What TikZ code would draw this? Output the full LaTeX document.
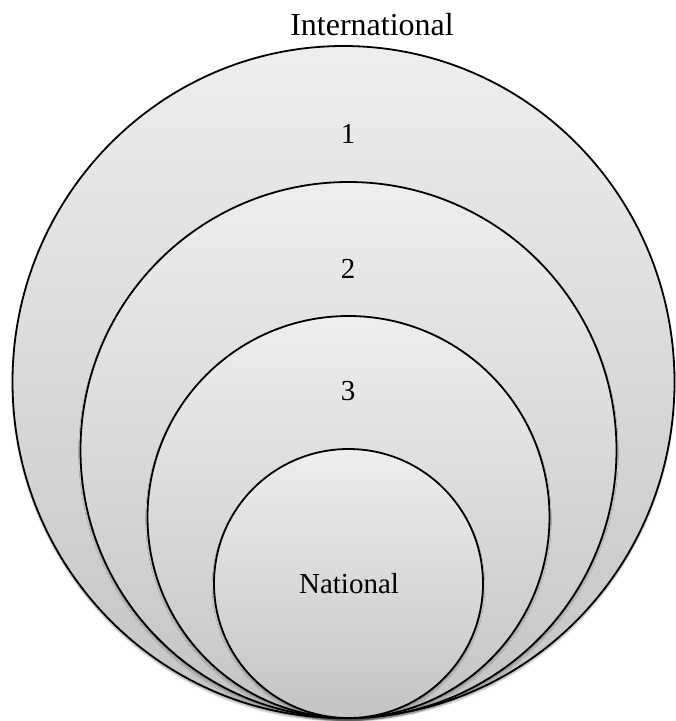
\documentclass[tikz,border=0pt]{standalone}
\usepackage{fontspec}
\setmainfont{Liberation Serif}
\usetikzlibrary{shapes.geometric,shadows.blur}
\definecolor{ringtop}{RGB}{238,238,238}
\definecolor{ringbottom}{RGB}{196,196,196}
\begin{document}
\begin{tikzpicture}[x=1pt,y=-1pt,
  ring/.style={ellipse, draw=black, line width=1.8pt, inner sep=0pt,
    top color=ringtop, bottom color=ringbottom,
    blur shadow={shadow xshift=0pt, shadow yshift=-2.5pt, shadow blur steps=6, shadow opacity=35}},
  lbl/.style={font=\fontsize{29}{33}\selectfont, text=black, inner sep=0pt},
  title/.style={font=\fontsize{32}{36}\selectfont, text=black, inner sep=0pt}]
\useasboundingbox (0,0) rectangle (676,721);
% nested rings, all touching at the bottom
\node[ring, minimum width=662pt, minimum height=672pt] (outer) at (343.5,382) {};
\node[ring, minimum width=536pt, minimum height=536pt] (two) at (348.5,450) {};
\node[ring, minimum width=402pt, minimum height=402pt] (three) at (348.5,517) {};
\node[ring, minimum width=269pt, minimum height=269pt] (national) at (348.5,583.5) {};
% labels
\node[title] (intl) at (372,25) {International};
\node[lbl] (n1) at (348,134) {1};
\node[lbl] (n2) at (348,269) {2};
\node[lbl] (n3) at (348,391) {3};
\node[lbl] (nat) at (349,584) {National};
\end{tikzpicture}
\end{document}
